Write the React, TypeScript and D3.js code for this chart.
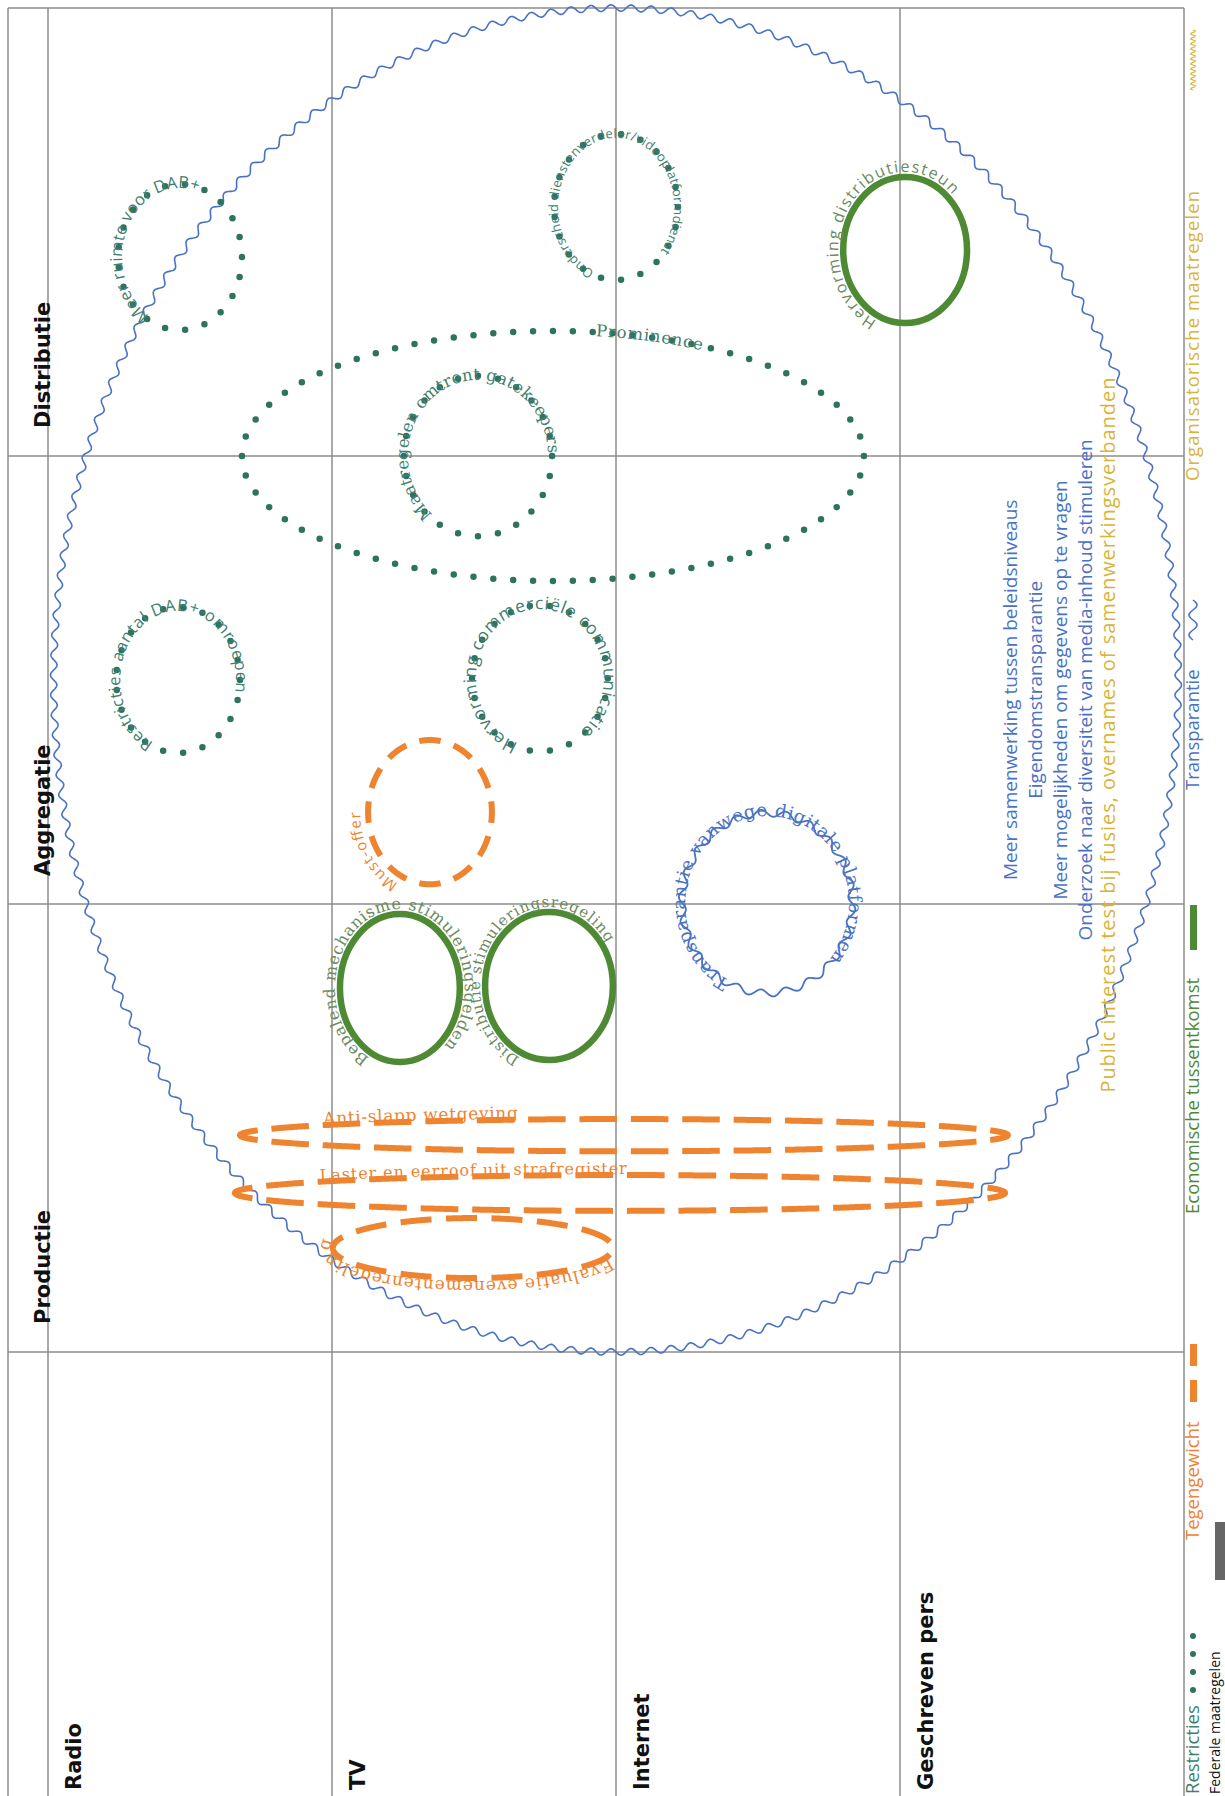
import React from 'react';
import * as d3 from 'd3';

const W = 1225;
const H = 1796;

const rowLabels = ['Radio', 'TV', 'Internet', 'Geschreven pers'];
const columnLabels = ['Productie', 'Aggregatie', 'Distributie'];

// Grid units: x = media rows (0..4), y = value-chain columns (0..3)
// from/to = start and end angle (degrees, clockwise) of the label along the shape
const restricties = [
  { label: 'Meer ruimte voor DAB+', cx: 0.465, cy: 2.444, rx: 0.218, ry: 0.163, from: 122, to: 288, fs: 16.5, serif: false },
  { label: 'Onderscheid dienstenverdeler/videoplatformdienst', cx: 2.0, cy: 2.556, rx: 0.218, ry: 0.163, from: 112, to: 400, fs: 13, serif: false },
  { label: 'Prominence', cx: 1.778, cy: 2.0, rx: 1.095, ry: 0.279, from: 278, to: 299, fs: 16.5, serif: true },
  { label: 'Maatregelen omtrent gatekeepers', cx: 1.514, cy: 2.0, rx: 0.261, ry: 0.179, from: 130, to: 358, fs: 16.5, serif: true },
  { label: 'Restricties aantal DAB+-omroepen', cx: 0.458, cy: 1.5, rx: 0.218, ry: 0.163, from: 115, to: 370, fs: 16.5, serif: false },
  { label: 'Hervorming commerciële communicatie', cx: 1.732, cy: 1.504, rx: 0.239, ry: 0.163, from: 110, to: 410, fs: 17.5, serif: false },
];

const tegengewicht = [
  { label: 'Must-offer', cx: 1.345, cy: 1.205, rx: 0.218, ry: 0.161, from: 117, to: 180, fs: 15, serif: false, off: 8, dash: 22 },
  { label: 'Anti-slapp wetgeving', cx: 2.028, cy: 0.484, rx: 1.352, ry: 0.036, from: 218.7, to: 254, fs: 17, serif: true, off: 1, dash: 38 },
  { label: 'Laster en eerroof uit strafregister', cx: 2.014, cy: 0.355, rx: 1.356, ry: 0.04, from: 219, to: 271, fs: 16, serif: true, off: 1, dash: 38 },
  { label: 'Evaluatie evenementenregeling', cx: 1.496, cy: 0.232, rx: 0.493, ry: 0.067, from: 17, to: 192, fs: 17, serif: true, off: 3, dash: 30 },
];

const tussenkomst = [
  { label: 'Hervorming distributiesteun', cx: 3.018, cy: 2.46, rx: 0.218, ry: 0.163, from: 115, to: 315, fs: 16, serif: false },
  { label: 'Bepalend mechanisme stimuleringsgelden', cx: 1.239, cy: 0.8125, rx: 0.211, ry: 0.165, from: 118, to: 407, fs: 16, serif: true },
  { label: 'Distributie stimuleringsregeling', cx: 1.764, cy: 0.817, rx: 0.225, ry: 0.165, from: 115, to: 327, fs: 15, serif: true },
];

const transparantie = [
  { label: 'Transparantie vanwege digitale platformen', cx: 2.532, cy: 1.002, rx: 0.299, ry: 0.201, from: 117, to: 400, fs: 18, serif: true },
];
const transparantieAlgemeen = { cx: 2.0, cy: 1.5, rx: 1.98, ry: 1.5 };

const algemeneMaatregelen = [
  'Meer samenwerking tussen beleidsniveaus',
  'Eigendomstransparantie',
  'Meer mogelijkheden om gegevens op te vragen',
  'Onderzoek naar diversiteit van media-inhoud stimuleren',
];
const algemeenPos = { u: 3.412, v: 1.478, step: 0.088 };
const organisatorisch = ['Public interest test bij fusies, overnames of samenwerkingsverbanden'];
const organisatorischPos = { u: 3.757, v: 1.377 };

const legendLabels = ['Restricties', 'Federale maatregelen', 'Tegengewicht', 'Economische tussentkomst', 'Transparantie', 'Organisatorische maatregelen'];

const TEAL = '#2e7262';
const TEAL_TEXT = '#41806f';
const GREEN = '#4e8a33';
const GREEN_TEXT = '#6b8a5e';
const ORANGE = '#ee8330';
const BLUE = '#4a72c4';
const YELLOW = '#d8b43a';
const GRID = '#8c8c8c';
const SANS = "'Open Sans', 'DejaVu Sans', sans-serif";
const SERIF = "'DejaVu Serif', serif";

type Pt = [number, number];

function ellipsePoints(cx: number, cy: number, rx: number, ry: number, start: number, sweep: number, n: number): Pt[] {
  const pts: Pt[] = [];
  for (let i = 0; i <= n; i++) {
    const t = ((start + (sweep * i) / n) * Math.PI) / 180;
    pts.push([cx + rx * Math.cos(t), cy + ry * Math.sin(t)]);
  }
  return pts;
}

function polyLength(pts: Pt[]) {
  let L = 0;
  for (let i = 1; i < pts.length; i++) L += Math.hypot(pts[i][0] - pts[i - 1][0], pts[i][1] - pts[i - 1][1]);
  return L;
}

function wavyEllipse(cx: number, cy: number, rx: number, ry: number, amp: number, wl: number): Pt[] {
  const n = 5000;
  const base: Pt[] = [];
  const normals: Pt[] = [];
  for (let i = 0; i <= n; i++) {
    const t = (i / n) * Math.PI * 2;
    const c = Math.cos(t), s = Math.sin(t);
    base.push([cx + rx * c, cy + ry * s]);
    const nx = c / rx, ny = s / ry;
    const nl = Math.hypot(nx, ny);
    normals.push([nx / nl, ny / nl]);
  }
  const cum = [0];
  for (let i = 1; i <= n; i++) cum.push(cum[i - 1] + Math.hypot(base[i][0] - base[i - 1][0], base[i][1] - base[i - 1][1]));
  const L = cum[n];
  const count = Math.round(L / wl);
  return base.map((p, i) => {
    const off = amp * Math.sin((2 * Math.PI * count * cum[i]) / L);
    return [p[0] + normals[i][0] * off, p[1] + normals[i][1] * off] as Pt;
  });
}

const line = d3.line<Pt>();

export default function App() {
  const x = d3.scaleLinear().domain([0, 4]).range([48, 1184]);
  const y = d3.scaleLinear().domain([0, 3]).range([1352, 8]);
  const kx = x(1) - x(0);
  const ky = y(0) - y(1);
  const geom = (s: { cx: number; cy: number; rx: number; ry: number }) => ({
    cx: x(s.cx), cy: y(s.cy), rx: s.rx * kx, ry: s.ry * ky,
  });

  const labelOnPath = (id: string, s: any, off: number, color: string) => {
    const g = geom(s);
    const pts = ellipsePoints(g.cx, g.cy, g.rx + off, g.ry + off, s.from, 359.5, 900);
    const arc = polyLength(ellipsePoints(g.cx, g.cy, g.rx + off, g.ry + off, s.from, s.to - s.from, 600));
    return (
      <g key={id}>
        <path id={id} d={line(pts) as string} fill="none" stroke="none" />
        <text fill={color} fontSize={s.fs} fontFamily={s.serif ? SERIF : SANS}>
          <textPath href={'#' + id} textLength={arc} lengthAdjust="spacing">{s.label}</textPath>
        </text>
      </g>
    );
  };

  const dottedRing = (s: any, key: string, spacing = 20) => {
    const g = geom(s);
    const pts = ellipsePoints(g.cx, g.cy, g.rx, g.ry, 0, 360, 1000);
    const L = polyLength(pts);
    const gap = L / Math.round(L / spacing);
    return (
      <path key={key} d={(line(pts) as string) + 'Z'} fill="none" stroke={TEAL} strokeWidth={6.5}
        strokeLinecap="round" strokeDasharray={`0 ${gap}`} />
    );
  };

  const dashedRing = (s: any, key: string) => {
    const g = geom(s);
    const pts = ellipsePoints(g.cx, g.cy, g.rx, g.ry, 180, 360, 1000);
    const L = polyLength(pts);
    const period = L / Math.round(L / (s.dash + 14));
    const dash = period * (s.dash / (s.dash + 14));
    return (
      <path key={key} d={(line(pts) as string) + 'Z'} fill="none" stroke={ORANGE} strokeWidth={6}
        strokeDasharray={`${dash} ${period - dash}`} strokeDashoffset={dash / 2} />
    );
  };

  const big = geom(transparantieAlgemeen);
  const bigWave = wavyEllipse(big.cx, big.cy, big.rx, big.ry, 3.2, 20);

  const rowLines = d3.range(0, 5).map((i) => x(i));
  const colLines = d3.range(0, 4).map((i) => y(i));

  const legWave: Pt[] = d3.range(0, 41).map((i) => [1193 + 4 * Math.sin((i / 40) * 4 * Math.PI), 600 + i] as Pt);
  const legZig: Pt[] = d3.range(0, 61).map((i) => [1193 + 2.5 * Math.sin((i / 60) * 24 * Math.PI), 30 + i] as Pt);

  return (
    <svg width={W} height={H} style={{ position: 'absolute', left: 0, top: 0, background: '#fff' }}>
      <rect x={0} y={0} width={W} height={H} fill="#fff" />
      <g stroke={GRID} strokeWidth={1.5}>
        <line x1={8} x2={8} y1={8} y2={H} />
        {rowLines.map((lx, i) => (
          <line key={'r' + i} x1={lx} x2={lx} y1={8} y2={H} />
        ))}
        {colLines.map((ly, i) => (
          <line key={'c' + i} x1={8} x2={x(4)} y1={ly} y2={ly} />
        ))}
      </g>

      <g fontFamily="'DejaVu Sans', sans-serif" fontWeight="bold" fontSize={21} fill="#111">
        {rowLabels.map((r, i) => (
          <text key={r} transform={`translate(${x(i) + 33},${1790}) rotate(-90)`}>{r}</text>
        ))}
        {columnLabels.map((c, i) => (
          <text key={c} transform={`translate(${50},${y(i) - 28}) rotate(-90)`}>{c}</text>
        ))}
      </g>

      <path d={(line(bigWave) as string) + 'Z'} fill="none" stroke={BLUE} strokeWidth={1.6} />

      {restricties.map((s, i) => dottedRing(s, 'dr' + i))}
      {restricties.map((s, i) => labelOnPath('tpR' + i, s, -4, TEAL_TEXT))}

      {tussenkomst.map((s, i) => {
        const g = geom(s);
        return <ellipse key={'e' + i} cx={g.cx} cy={g.cy} rx={g.rx} ry={g.ry} fill="none" stroke={GREEN} strokeWidth={6.5} />;
      })}
      {tussenkomst.map((s, i) => labelOnPath('tpE' + i, s, 5, GREEN_TEXT))}

      {transparantie.map((s, i) => {
        const g = geom(s);
        const pts = wavyEllipse(g.cx, g.cy, g.rx, g.ry, 3.5, 25);
        return <path key={'t' + i} d={(line(pts) as string) + 'Z'} fill="none" stroke={BLUE} strokeWidth={1.8} />;
      })}
      {transparantie.map((s, i) => labelOnPath('tpT' + i, s, -3, BLUE))}

      {tegengewicht.map((s, i) => dashedRing(s, 'o' + i))}
      {tegengewicht.map((s, i) => labelOnPath('tpO' + i, s, s.off, ORANGE))}

      <g fontFamily={SANS} fontSize={19} textAnchor="middle">
        {algemeneMaatregelen.map((t, i) => (
          <text key={t} fill={BLUE} transform={`translate(${x(algemeenPos.u + i * algemeenPos.step)},${y(algemeenPos.v)}) rotate(-90)`}>{t}</text>
        ))}
        {organisatorisch.map((t) => (
          <text key={t} fill={YELLOW} fontSize={20} textLength={715} lengthAdjust="spacing" transform={`translate(${x(organisatorischPos.u)},${y(organisatorischPos.v)}) rotate(-90)`}>{t}</text>
        ))}
      </g>

      <g fontFamily={SANS} fontSize={18.5}>
        <text fill={TEAL_TEXT} transform={`translate(1199,1794) rotate(-90)`}>{legendLabels[0]}</text>
        {[1690, 1672, 1654, 1636].map((d) => (
          <circle key={d} cx={1193} cy={d} r={3} fill={TEAL} />
        ))}
        <text fill="#111" fontSize={14} transform={`translate(1219.5,1794) rotate(-90)`}>{legendLabels[1]}</text>
        <rect x={1215} y={1522} width={10} height={58} fill="#666" />
        <text fill={ORANGE} transform={`translate(1199,1540) rotate(-90)`}>{legendLabels[2]}</text>
        <rect x={1190} y={1380} width={7} height={22} fill={ORANGE} />
        <rect x={1190} y={1344} width={7} height={22} fill={ORANGE} />
        <text fill={GREEN} transform={`translate(1199,1214) rotate(-90)`}>{legendLabels[3]}</text>
        <rect x={1190} y={905} width={7} height={45} fill={GREEN} />
        <text fill={BLUE} transform={`translate(1199,790) rotate(-90)`}>{legendLabels[4]}</text>
        <path d={line(legWave) as string} fill="none" stroke={BLUE} strokeWidth={1.6} />
        <text fill={YELLOW} textLength={290} lengthAdjust="spacing" transform={`translate(1199,481) rotate(-90)`}>{legendLabels[5]}</text>
        <path d={line(legZig) as string} fill="none" stroke={YELLOW} strokeWidth={1.2} />
      </g>
    </svg>
  );
}
